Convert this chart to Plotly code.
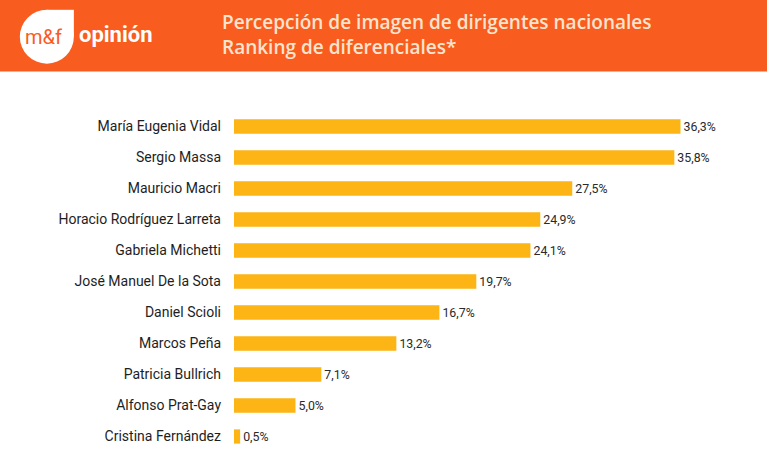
import plotly.graph_objects as go

names = ["María Eugenia Vidal", "Sergio Massa", "Mauricio Macri", "Horacio Rodríguez Larreta",
         "Gabriela Michetti", "José Manuel De la Sota", "Daniel Scioli", "Marcos Peña",
         "Patricia Bullrich", "Alfonso Prat-Gay", "Cristina Fernández"]
values = [36.3, 35.8, 27.5, 24.9, 24.1, 19.7, 16.7, 13.2, 7.1, 5.0, 0.5]
value_labels = [f"{v:.1f}".replace(".", ",") + "%" for v in values]
title_lines = ["Percepción de imagen de dirigentes nacionales", "Ranking de diferenciales*"]

W, H = 767, 468
L, R, T, B = 234, 41.4, 110.5, 15.5
PW, PH = W - L - R, H - T - B

def px(x):
    return (x - L) / PW

def py(y):
    return (H - B - y) / PH

ORANGE = "#F95C1F"
GOLD = "#FCB514"
CREAM = "#FDE4CE"

fig = go.Figure(go.Bar(
    x=values, y=names, orientation="h",
    marker=dict(color=GOLD, line=dict(width=0)),
    width=0.46,
    text=value_labels, textposition="outside",
    textfont=dict(family="Roboto", size=13, color="#2a2a2a"),
    cliponaxis=False, hoverinfo="skip",
))

shapes = [
    dict(type="rect", xref="paper", yref="paper", x0=px(-5), x1=px(W + 5), y0=py(71), y1=py(-5),
         fillcolor=ORANGE, line=dict(width=0), layer="below"),
    dict(type="circle", xref="paper", yref="paper", x0=px(20), x1=px(74), y0=py(63), y1=py(9),
         fillcolor="white", line=dict(width=0)),
    dict(type="rect", xref="paper", yref="paper", x0=px(47), x1=px(74), y0=py(36), y1=py(9),
         fillcolor="white", line=dict(width=0)),
]

annotations = [
    dict(text="m&f", x=px(44), y=py(36), xref="paper", yref="paper", showarrow=False,
         xanchor="center", yanchor="middle",
         font=dict(family="Roboto", size=20, color=ORANGE)),
    dict(text="<b>opinión</b>", x=px(77), y=py(34), xref="paper", yref="paper", showarrow=False,
         xanchor="left", yanchor="middle",
         font=dict(family="Roboto", size=22, color="white")),
    dict(text="<br>".join(title_lines), x=px(220), y=py(33.5),
         xref="paper", yref="paper", showarrow=False, xanchor="left", yanchor="middle",
         align="left",
         font=dict(family="Open Sans", size=19, weight=600, color=CREAM)),
]

fig.update_layout(
    width=W, height=H,
    margin=dict(l=L, r=R, t=T, b=B),
    paper_bgcolor="white", plot_bgcolor="white",
    showlegend=False,
    shapes=shapes, annotations=annotations,
    xaxis=dict(range=[0, 40], visible=False, fixedrange=True),
    yaxis=dict(autorange="reversed", showgrid=False, zeroline=False, showline=False,
               ticks="", ticklabelstandoff=12, fixedrange=True,
               tickfont=dict(family="Roboto", size=14, color="#1e1e1e")),
)

fig.write_html("out.html", config={"displayModeBar": False},
               post_script="document.body.style.margin='0';document.body.style.padding='0';")
